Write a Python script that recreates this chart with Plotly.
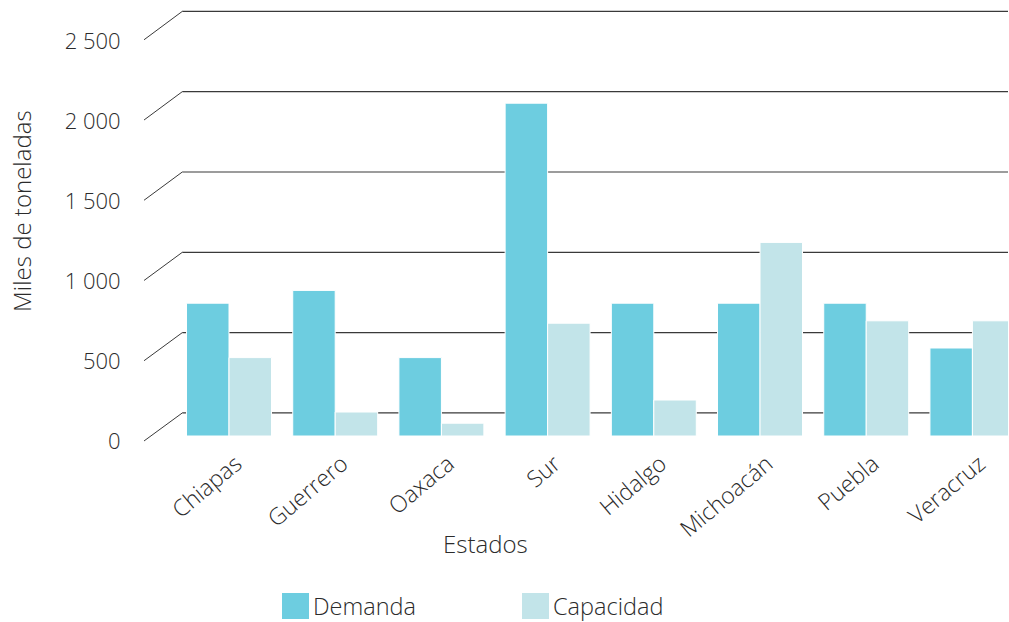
import plotly.graph_objects as go

# Data (miles de toneladas)
estados = ["Chiapas", "Guerrero", "Oaxaca", "Sur", "Hidalgo", "Michoacán", "Puebla", "Veracruz"]
demanda = [830, 910, 490, 2080, 830, 830, 830, 550]
capacidad = [490, 150, 80, 705, 225, 1210, 720, 720]
y_ticks = [0, 500, 1000, 1500, 2000, 2500]
y_tick_labels = ["0", "500", "1 000", "1 500", "2 000", "2 500"]

COL_DEM = "#6dcde0"
COL_CAP = "#c2e4e9"
TXT = "#2b2b2b"
FONT = "Open Sans"
WEIGHT = 300

W, H = 1009, 622
x_pos = list(range(len(estados)))

fig = go.Figure()
fig.add_trace(go.Bar(x=x_pos, y=demanda, name="Demanda", marker=dict(color=COL_DEM, line=dict(color="white", width=1))))
fig.add_trace(go.Bar(x=x_pos, y=capacidad, name="Capacidad", marker=dict(color=COL_CAP, line=dict(color="white", width=1))))

# Pseudo-3D gridlines: a diagonal on the floor edge, then a horizontal line on the back wall
X_FRONT, X_BACK, X_END = -0.80, -0.44, 7.40
BACK_OFF, FRONT_OFF = 144, -31
shapes = []
for v in y_ticks:
    yb = v * 1.004 + BACK_OFF
    yf = v * 1.003 + FRONT_OFF
    shapes.append(dict(type="line", xref="x", yref="y", x0=X_FRONT, y0=yf, x1=X_BACK, y1=yb,
                       line=dict(color="#3a3a3a", width=1), layer="below"))
    shapes.append(dict(type="line", xref="x", yref="y", x0=X_BACK, y0=yb, x1=X_END, y1=yb,
                       line=dict(color="#3a3a3a", width=1.2), layer="below"))

def txt_font(size):
    return dict(family=FONT, size=size, color=TXT, weight=WEIGHT)

# Legend drawn as large square swatches with labels
legend_items = [("Demanda", COL_DEM, 282), ("Capacidad", COL_CAP, 522)]
annotations = []
for name, col, px in legend_items:
    shapes.append(dict(type="rect", xref="paper", yref="paper",
                       x0=(px - 140) / 868, x1=(px + 27 - 140) / 868,
                       y0=(445 - 619) / 440, y1=(445 - 593) / 440,
                       fillcolor=col, line=dict(width=0)))
    annotations.append(dict(text=name, xref="paper", yref="paper",
                            x=(px + 29 - 140) / 868, y=(445 - 606) / 440,
                            xanchor="left", yanchor="middle", showarrow=False,
                            font=txt_font(23.5)))

annotations.append(dict(text="Estados", xref="paper", yref="paper",
                        x=(485 - 140) / 868, y=(445 - 543) / 440,
                        xanchor="center", yanchor="middle", showarrow=False,
                        font=txt_font(24)))
annotations.append(dict(text="Miles de toneladas", xref="paper", yref="paper",
                        x=(22 - 140) / 868, y=(445 - 211) / 440, textangle=-90,
                        xanchor="center", yanchor="middle", showarrow=False,
                        font=txt_font(24)))

fig.update_layout(
    width=W, height=H,
    margin=dict(l=140, r=1, t=5, b=177),
    paper_bgcolor="white", plot_bgcolor="rgba(0,0,0,0)",
    barmode="group", bargap=0.2, bargroupgap=0,
    showlegend=False,
    shapes=shapes, annotations=annotations,
    font=txt_font(22),
)
fig.update_xaxes(
    range=[-0.838, 7.335], tickmode="array", tickvals=x_pos, ticktext=estados,
    tickangle=-40, showgrid=False, zeroline=False, showline=False,
    ticks="", ticklabelshift=7, tickfont=txt_font(23),
)
fig.update_yaxes(
    range=[-56.25, 2693.75], tickmode="array", tickvals=y_ticks, ticktext=y_tick_labels,
    showgrid=False, zeroline=False, showline=False, ticks="outside", ticklen=14,
    tickcolor="rgba(0,0,0,0)", ticklabelshift=5,
    tickfont=txt_font(22),
)

fig.write_html("out.html")
